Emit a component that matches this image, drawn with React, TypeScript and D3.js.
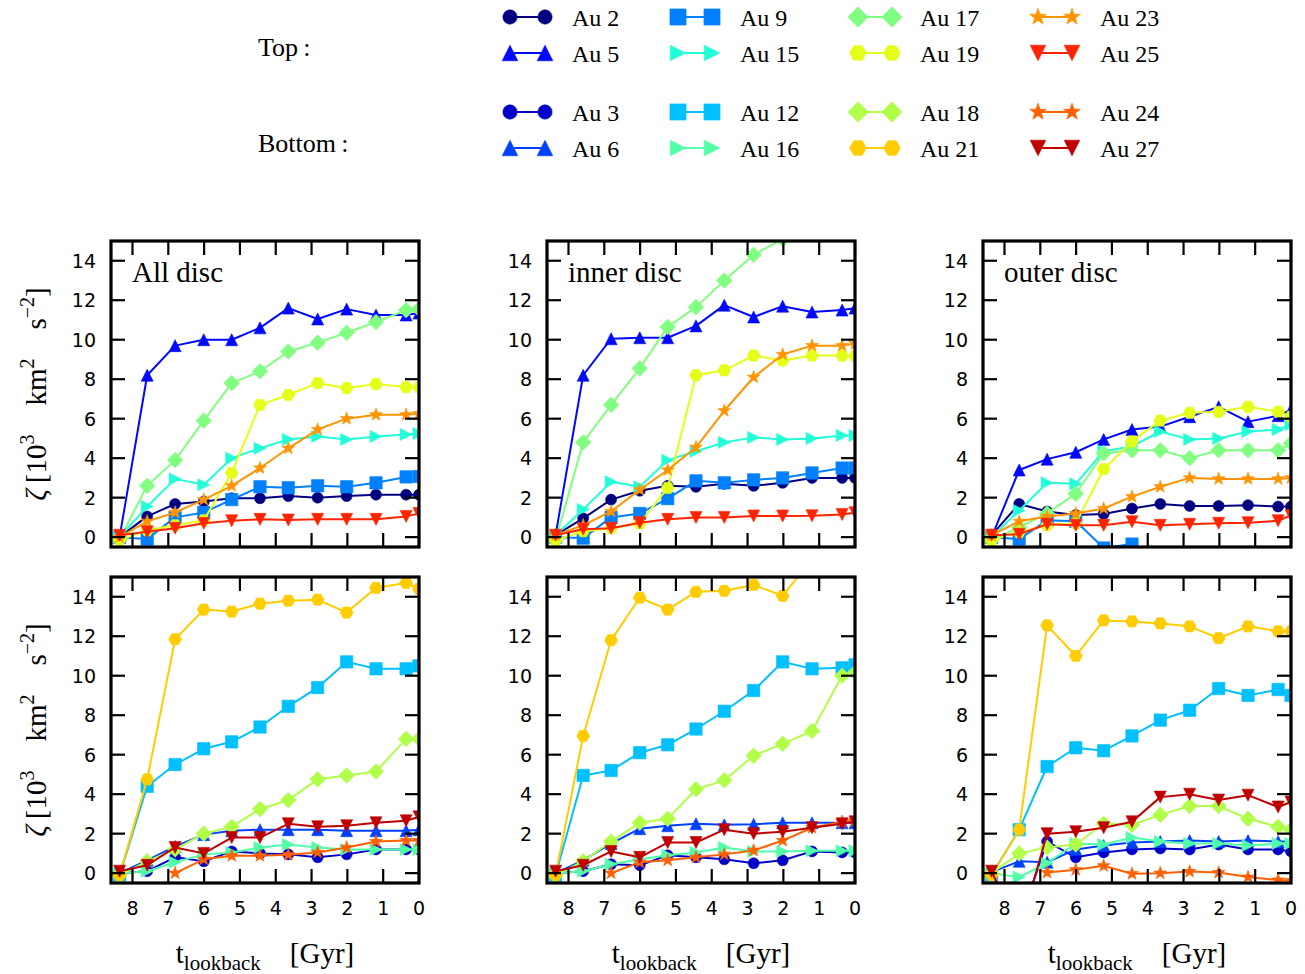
import React from 'react';
import * as d3 from 'd3';

// lookback times of the snapshots [Gyr]
const times = [8.36, 7.59, 6.81, 6.01, 5.23, 4.44, 3.65, 2.83, 2.02, 1.2, 0.36, 0];

const topHalos = ['Au 2', 'Au 5', 'Au 9', 'Au 15', 'Au 17', 'Au 19', 'Au 23', 'Au 25'];
const bottomHalos = ['Au 3', 'Au 6', 'Au 12', 'Au 16', 'Au 18', 'Au 21', 'Au 24', 'Au 27'];
const panelLabels = ['All disc', 'inner disc', 'outer disc'];
const xTicks = [8, 7, 6, 5, 4, 3, 2, 1, 0];
const yTicks = [0, 2, 4, 6, 8, 10, 12, 14];

// zeta [10^3 km^2 s^-2], one row per halo (same order as the halo lists)
const allDiscTop = [
  [0, 1.05, 1.68, 1.8, 1.97, 1.97, 2.08, 2.0, 2.08, 2.15, 2.15, 2.15],
  [0, 8.2, 9.7, 10.0, 10.0, 10.6, 11.6, 11.05, 11.55, 11.25, 11.25, 11.35],
  [0, -0.1, 1.0, 1.25, 1.9, 2.55, 2.5, 2.6, 2.55, 2.75, 3.05, 3.07],
  [0, 1.55, 2.95, 2.65, 4.0, 4.5, 4.95, 5.1, 4.95, 5.1, 5.2, 5.25],
  [-0.1, 2.6, 3.9, 5.9, 7.8, 8.4, 9.4, 9.85, 10.35, 10.9, 11.5, 11.55],
  [-0.15, 0.35, 0.6, 0.85, 3.25, 6.7, 7.2, 7.8, 7.55, 7.75, 7.6, 7.6],
  [0, 0.8, 1.25, 1.9, 2.6, 3.5, 4.5, 5.45, 6.0, 6.2, 6.2, 6.25],
  [0.1, 0.27, 0.45, 0.7, 0.83, 0.9, 0.87, 0.9, 0.9, 0.9, 1.05, 1.2],
];
const innerDiscTop = [
  [0.1, 0.95, 1.9, 2.35, 2.6, 2.55, 2.7, 2.6, 2.75, 3.0, 3.0, 3.0],
  [0.1, 8.2, 10.05, 10.1, 10.1, 10.7, 11.75, 11.15, 11.7, 11.4, 11.5, 11.6],
  [0, -0.05, 1.0, 1.2, 1.95, 2.85, 2.75, 2.9, 3.0, 3.25, 3.5, 3.5],
  [0.1, 1.4, 2.8, 2.55, 3.9, 4.35, 4.8, 5.05, 4.95, 5.0, 5.15, 5.15],
  [-0.15, 4.8, 6.7, 8.55, 10.65, 11.65, 13.0, 14.3, 15.1, 15.9, 16.6, 16.9],
  [-0.15, 0.3, 0.45, 0.7, 2.5, 8.2, 8.45, 9.2, 8.95, 9.2, 9.2, 9.17],
  [0.1, 0.6, 1.3, 2.4, 3.4, 4.55, 6.4, 8.1, 9.25, 9.7, 9.7, 9.8],
  [0.1, 0.4, 0.45, 0.73, 0.9, 1.0, 1.0, 1.07, 1.07, 1.08, 1.15, 1.24],
];
const outerDiscTop = [
  [0.1, 1.68, 1.3, 1.12, 1.17, 1.45, 1.68, 1.58, 1.58, 1.62, 1.55, 1.55],
  [0, 3.4, 3.95, 4.3, 4.95, 5.45, 5.6, 6.1, 6.6, 5.85, 6.15, 6.45],
  [0, -0.1, 0.85, 0.8, -0.55, -0.35, -1.3, -1.8, -2.1, -2.4, -2.6, -2.8],
  [0, 1.35, 2.75, 2.7, 4.35, 4.6, 5.35, 4.95, 5.0, 5.35, 5.45, 5.7],
  [-0.15, 0.5, 1.2, 2.2, 4.25, 4.4, 4.4, 4.0, 4.4, 4.4, 4.4, 4.75],
  [-0.15, 0.25, 0.6, 0.7, 3.45, 4.85, 5.9, 6.3, 6.35, 6.6, 6.35, 6.1],
  [0.1, 0.8, 1.05, 1.2, 1.45, 2.05, 2.55, 3.0, 2.95, 2.95, 2.95, 3.0],
  [0.1, 0.15, 0.65, 0.6, 0.6, 0.78, 0.6, 0.65, 0.7, 0.73, 0.83, 1.1],
];
const allDiscBottom = [
  [0, 0.1, 0.8, 0.6, 1.1, 1.0, 0.95, 0.8, 0.95, 1.2, 1.2, 1.2],
  [0, 0.65, 1.35, 1.95, 2.15, 2.2, 2.2, 2.2, 2.15, 2.15, 2.15, 2.2],
  [-0.1, 4.4, 5.5, 6.3, 6.65, 7.4, 8.45, 9.4, 10.7, 10.35, 10.35, 10.5],
  [0, 0.1, 0.55, 0.95, 1.05, 1.3, 1.45, 1.3, 1.2, 1.2, 1.2, 1.2],
  [-0.1, 0.6, 1.2, 2.0, 2.35, 3.25, 3.7, 4.75, 4.95, 5.15, 6.8, 6.8],
  [-0.1, 4.75, 11.85, 13.35, 13.25, 13.65, 13.8, 13.85, 13.2, 14.45, 14.7, 14.4],
  [null, null, 0, 0.7, 0.88, 0.88, 0.93, 1.05, 1.3, 1.6, 1.65, 1.65],
  [0.1, 0.4, 1.3, 1.0, 1.8, 1.8, 2.5, 2.35, 2.4, 2.55, 2.65, 2.85],
];
const innerDiscBottom = [
  [0, 0.1, 0.45, 0.4, 0.9, 0.8, 0.7, 0.5, 0.65, 1.1, 1.05, 1.05],
  [0, 0.65, 1.5, 2.25, 2.4, 2.5, 2.45, 2.48, 2.55, 2.55, 2.55, 2.55],
  [-0.1, 4.95, 5.2, 6.1, 6.5, 7.3, 8.2, 9.25, 10.7, 10.35, 10.4, 10.55],
  [0, 0.1, 0.45, 0.7, 0.9, 1.05, 1.3, 1.1, 1.1, 1.13, 1.13, 1.13],
  [-0.1, 0.6, 1.6, 2.55, 2.75, 4.25, 4.7, 5.95, 6.55, 7.2, 10.0, 10.15],
  [-0.1, 6.95, 11.8, 13.95, 13.35, 14.25, 14.3, 14.6, 14.05, 15.9, 16.2, 16.3],
  [null, null, 0, 0.55, 0.65, 0.8, 0.95, 1.15, 1.65, 2.3, 2.6, 2.65],
  [0.1, 0.4, 1.1, 0.8, 1.55, 1.55, 2.2, 2.0, 2.1, 2.3, 2.5, 2.6],
];
const outerDiscBottom = [
  [0, -2.5, 1.6, 0.8, 1.05, 1.2, 1.25, 1.2, 1.45, 1.2, 1.2, 1.1],
  [0.05, 0.6, 0.55, 1.2, 1.4, 1.55, 1.6, 1.65, 1.6, 1.65, 1.6, 1.6],
  [-0.1, 2.2, 5.4, 6.35, 6.2, 6.95, 7.75, 8.25, 9.35, 9.0, 9.3, 9.0],
  [0, -0.2, 0.5, 1.5, 1.45, 1.8, 1.6, 1.5, 1.5, 1.4, 1.5, 1.5],
  [0, 1.0, 1.3, 1.45, 2.5, 2.45, 2.95, 3.4, 3.4, 2.75, 2.35, 2.2],
  [-0.1, 2.2, 12.55, 11.0, 12.8, 12.75, 12.65, 12.5, 11.9, 12.5, 12.25, 12.25],
  [null, null, 0.03, 0.17, 0.37, -0.03, 0, 0.08, 0.03, -0.2, -0.35, -0.38],
  [0.1, -3.0, 2.0, 2.1, 2.3, 2.6, 3.85, 4.0, 3.7, 3.95, 3.35, 3.6],
];

const colors: Record<string, string> = {
  'Au 2': '#000080', 'Au 3': '#0000c8', 'Au 5': '#0008ff', 'Au 6': '#0040ff',
  'Au 9': '#0080ff', 'Au 12': '#00c0ff', 'Au 15': '#22ffd8', 'Au 16': '#50ffa8',
  'Au 17': '#80ff80', 'Au 18': '#b0ff48', 'Au 19': '#e4ff18', 'Au 21': '#ffcc00',
  'Au 23': '#ff9400', 'Au 24': '#ff6000', 'Au 25': '#ff2400', 'Au 27': '#c00000',
};
// marker per series slot (same for top and bottom)
const markers = ['circle', 'triUp', 'square', 'triRight', 'diamond', 'hexagon', 'star', 'triDown'];

const polygon = (pts: [number, number][]) => 'M' + pts.map(p => p.join(',')).join('L') + 'Z';

function markerPath(kind: string, k: number) {
  switch (kind) {
    case 'circle': return d3.symbol(d3.symbolCircle, Math.PI * (5.5 * k) ** 2)()!;
    case 'square': { const s = 6.2 * k; return polygon([[-s, -s], [s, -s], [s, s], [-s, s]]); }
    case 'diamond': { const s = 7.8 * k; return polygon([[0, -s], [s, 0], [0, s], [-s, 0]]); }
    case 'triUp': { const s = 6 * k; return polygon([[0, -s], [s, s], [-s, s]]); }
    case 'triDown': { const s = 6 * k; return polygon([[0, s], [s, -s], [-s, -s]]); }
    case 'triRight': { const s = 6 * k; return polygon([[s, 0], [-s, s], [-s, -s]]); }
    case 'hexagon': {
      const r = 6.5 * k;
      return polygon(d3.range(6).map(i => [r * Math.cos(i * Math.PI / 3), r * Math.sin(i * Math.PI / 3)] as [number, number]));
    }
    case 'star': {
      const r = 6.8 * k, ri = r * 0.4;
      return polygon(d3.range(10).map(i => {
        const a = -Math.PI / 2 + i * Math.PI / 5, rr = i % 2 ? ri : r;
        return [rr * Math.cos(a), rr * Math.sin(a)] as [number, number];
      }));
    }
  }
  return '';
}

const W = 1305, H = 974;
const colX = [111, 547, 983];
const rowY = [241, 577];
const pw = 308, ph = 306;
const serif = '"Liberation Serif", "DejaVu Serif", serif';
const sans = '"DejaVu Sans", sans-serif';

const panels = [
  { row: 0, col: 0, halos: topHalos, data: allDiscTop },
  { row: 0, col: 1, halos: topHalos, data: innerDiscTop },
  { row: 0, col: 2, halos: topHalos, data: outerDiscTop },
  { row: 1, col: 0, halos: bottomHalos, data: allDiscBottom },
  { row: 1, col: 1, halos: bottomHalos, data: innerDiscBottom },
  { row: 1, col: 2, halos: bottomHalos, data: outerDiscBottom },
];

function Panel({ p, idx }: { p: typeof panels[number]; idx: number }) {
  const left = colX[p.col], top = rowY[p.row];
  const x = d3.scaleLinear().domain([8.6, 0]).range([left, left + pw]);
  const y = d3.scaleLinear().domain([-0.5, 15]).range([top + ph, top]);
  const line = d3.line<number | null>()
    .defined(v => v !== null)
    .x((_, i) => x(times[i]))
    .y(v => y(v as number));
  const clipId = `clip-${idx}`;
  const tl = 14;
  return (
    <g>
      <clipPath id={clipId}><rect x={left} y={top} width={pw} height={ph} /></clipPath>
      <g clipPath={`url(#${clipId})`}>
        {p.data.map((vals, si) => {
          const c = colors[p.halos[si]];
          return (
            <g key={si}>
              <path d={line(vals) || ''} fill="none" stroke={c} strokeWidth={2} strokeLinejoin="round" />
              {vals.map((v, i) => v === null ? null : (
                <path key={i} d={markerPath(markers[si], 1)} transform={`translate(${x(times[i])},${y(v)})`}
                  fill={c} stroke={c} strokeWidth={0.6} />
              ))}
            </g>
          );
        })}
      </g>
      {/* ticks */}
      {xTicks.map(t => (
        <g key={'xt' + t} stroke="#000" strokeWidth={2.2}>
          <line x1={x(t)} x2={x(t)} y1={top} y2={top + tl} />
          <line x1={x(t)} x2={x(t)} y1={top + ph} y2={top + ph - tl} />
        </g>
      ))}
      {yTicks.map(t => (
        <g key={'yt' + t} stroke="#000" strokeWidth={2.2}>
          <line x1={left} x2={left + tl} y1={y(t)} y2={y(t)} />
          <line x1={left + pw} x2={left + pw - tl} y1={y(t)} y2={y(t)} />
        </g>
      ))}
      <rect x={left} y={top} width={pw} height={ph} fill="none" stroke="#000" strokeWidth={3.2} />
      {yTicks.map(t => (
        <text key={'yl' + t} x={left - 15} y={y(t) + 7} textAnchor="end" fontFamily={sans} fontSize={19}>{t}</text>
      ))}
      {p.row === 1 && xTicks.map(t => (
        <text key={'xl' + t} x={x(t)} y={top + ph + 32} textAnchor="middle" fontFamily={sans} fontSize={19}>{t}</text>
      ))}
      {p.row === 0 && (
        <text x={left + 21} y={top + 41} fontFamily={serif} fontSize={29}>{panelLabels[p.col]}</text>
      )}
    </g>
  );
}

function Legend() {
  const markX = [[510, 545], [678, 712], [858, 892], [1038, 1072]];
  const textX = [572, 740, 920, 1100];
  const groups = [
    { halos: topHalos, rows: [17, 53], title: 'Top\u2009:', ty: 56 },
    { halos: bottomHalos, rows: [112, 148], title: 'Bottom\u2009:', ty: 152 },
  ];
  return (
    <g>
      {groups.map((g, gi) => (
        <g key={gi}>
          <text x={258} y={g.ty} fontFamily={serif} fontSize={26}>{g.title}</text>
          {g.halos.map((h, si) => {
            const col = Math.floor(si / 2), yy = g.rows[si % 2];
            const c = colors[h];
            return (
              <g key={h}>
                <line x1={markX[col][0]} x2={markX[col][1]} y1={yy} y2={yy} stroke={c} strokeWidth={2} />
                {markX[col].map(mx => (
                  <path key={mx} d={markerPath(markers[si], 1.3)} transform={`translate(${mx},${yy})`} fill={c} stroke={c} strokeWidth={0.6} />
                ))}
                <text x={textX[col]} y={yy + 8.5} fontFamily={serif} fontSize={24}>{h}</text>
              </g>
            );
          })}
        </g>
      ))}
    </g>
  );
}

function YLabel({ cy }: { cy: number }) {
  return (
    <text transform={`translate(46,${cy}) rotate(-90)`} textAnchor="middle" fontFamily={serif} fontSize={29}>
      <tspan fontStyle="italic">ζ</tspan>
      <tspan>{'\u2009[10'}</tspan>
      <tspan fontSize={20} dy={-12}>3</tspan>
      <tspan dy={12}>{'\u2003km'}</tspan>
      <tspan fontSize={20} dy={-12}>2</tspan>
      <tspan dy={12}>{'\u2003s'}</tspan>
      <tspan fontSize={20} dy={-12}>−2</tspan>
      <tspan dy={12}>]</tspan>
    </text>
  );
}

function XLabel({ cx }: { cx: number }) {
  return (
    <text x={cx} y={963} textAnchor="middle" fontFamily={serif} fontSize={29}>
      <tspan>t</tspan>
      <tspan fontSize={21} dy={7}>lookback</tspan>
      <tspan dy={-7}>{'\u2002\u2002[Gyr]'}</tspan>
    </text>
  );
}

export default function App() {
  return (
    <div>
      <style>{'body{margin:0;background:#fff}'}</style>
      <svg width={W} height={H} style={{ display: 'block', background: '#fff' }}>
        <Legend />
        {panels.map((p, i) => <Panel key={i} p={p} idx={i} />)}
        {rowY.map(t => <YLabel key={t} cy={t + ph / 2} />)}
        {colX.map(l => <XLabel key={l} cx={l + pw / 2} />)}
      </svg>
    </div>
  );
}
